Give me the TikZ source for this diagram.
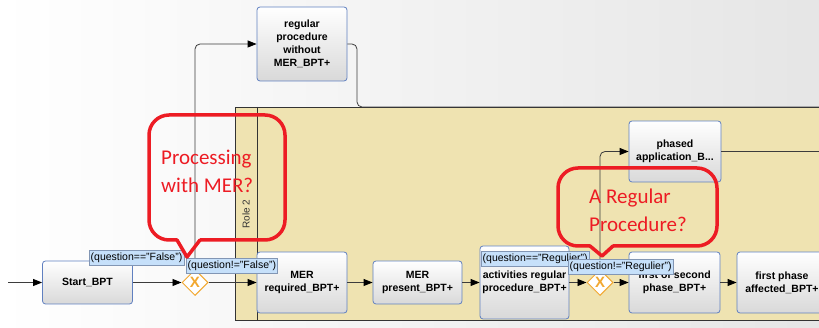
\documentclass[tikz,border=0pt]{standalone}
\usepackage{fontspec}
\setmainfont{Liberation Sans}
\newfontfamily\notefont{Carlito}
\usetikzlibrary{arrows.meta,shapes.geometric}

\definecolor{poolyellow}{RGB}{239,227,177}
\definecolor{taskblue}{RGB}{96,128,192}
\definecolor{gateorange}{RGB}{242,168,48}
\definecolor{condblue}{RGB}{198,224,250}
\definecolor{condline}{RGB}{130,150,180}
\definecolor{notered}{RGB}{237,28,36}
\definecolor{flowgray}{RGB}{60,60,60}

\begin{document}
\begin{tikzpicture}[x=1pt,y=-1pt,
  task/.style={rectangle, draw=taskblue, line width=0.8pt, rounded corners=3pt, top color=white, bottom color=black!15,
    align=center, font=\bfseries\fontsize{10.5}{13}\selectfont, minimum width=90pt, inner sep=1pt},
  gate/.style={diamond, draw=gateorange, fill=white, line width=1pt, minimum size=26pt, inner sep=0pt,
    text=gateorange, font=\bfseries\fontsize{15}{15}\selectfont},
  cond/.style={rectangle, draw=condline, fill=condblue, anchor=north west, inner sep=1.5pt,
    minimum height=15pt, font=\fontsize{10.5}{12}\selectfont},
  flow/.style={draw=flowgray, line width=0.8pt, -{Triangle[length=9pt,width=7pt,color=black]}},
  link/.style={draw=flowgray, line width=0.8pt, rounded corners=5pt},
  note/.style={draw=notered, line width=3.5pt, line cap=round, line join=round},
  notetext/.style={text=notered, anchor=west, align=left, inner sep=0pt, font=\notefont\fontsize{21}{28}\selectfont}
  ]

  \useasboundingbox (0,0) rectangle (819,328);
  \fill[left color=white, right color=black!10] (0,0) rectangle (819,328);

  % pool and lane
  \draw[fill=poolyellow, draw=black!80, line width=0.8pt] (235,107) rectangle (830,320);
  \draw[black!80, line width=0.8pt] (257,107) -- (257,320);
  \node[rotate=90, text=black!80, font=\fontsize{10}{12}\selectfont] (role) at (246,214) {Role 2};

  % tasks
  \node[task, minimum height=43pt] (start) at (87.5,282.5) {Start\_BPT};
  \node[gate] (gw1) at (195,282.5) {X};
  \node[task, minimum height=61pt] (merreq) at (302,282.5) {MER\\required\_BPT+};
  \node[task, minimum height=43pt, minimum width=89pt] (merpres) at (417.5,282.5) {MER\\present\_BPT+};
  \node[task, minimum height=73pt, minimum width=89pt] (actreg) at (524.5,282.5) {activities regular\\procedure\_BPT+};
  \node[gate] (gw2) at (600,282.5) {X};
  \node[task, minimum height=61pt, minimum width=91pt] (firstsec) at (674.5,282.5) {first of second\\phase\_BPT+};
  \node[task, minimum height=61pt] (firstaff) at (782,282.5) {first phase\\affected\_BPT+};
  \node[task, minimum height=74pt] (regnomer) at (302,44) {regular\\procedure\\without\\MER\_BPT+};
  \node[task, minimum height=61pt, minimum width=92pt] (phased) at (675,151.5) {phased\\application\_B...};

  % flows
  \coordinate (entry) at (8,282.5);
  \coordinate (poolbend) at (357,107);
  \coordinate (poolexit) at (819,107);
  \coordinate (phasedexit) at (819,151.5);
  \draw[flow] (entry) -- (start);
  \draw[flow] (start) -- (gw1);
  \draw[flow] (gw1) -- (merreq);
  \draw[flow, rounded corners=5pt] (gw1.north) |- (regnomer.west);
  \draw[link] (regnomer.east) -| (poolbend) -- (poolexit);
  \draw[flow] (merreq) -- (merpres);
  \draw[flow] (merpres) -- (actreg);
  \draw[flow] (actreg) -- (gw2);
  \draw[flow] (gw2) -- (firstsec);
  \draw[flow] (firstsec) -- (firstaff);
  \draw[flow, rounded corners=5pt] (gw2.north) |- (phased.west);
  \draw[link] (phased.east) -- (phasedexit);

  % conditions
  \node[cond] (isfalse) at (89,250) {(question=="False")};
  \node[cond] (notfalse) at (186,258) {(question!="False")};
  \node[cond] (isregul) at (481,251) {(question=="Regulier")};
  \node[cond] (notregul) at (568,259) {(question!="Regulier")};

  % callouts
  \draw[note, rounded corners=20pt] (200,240) -- (285,240) -- (285,115) -- (149,115) -- (149,240) -- (177,240);
  \draw[note] (177,240) -- (187,257) -- (200,240);
  \node[notetext] (askmer) at (161,171.5) {Processing\\with MER?};

  \draw[note, rounded corners=20pt] (613,246) -- (717,246) -- (717,168) -- (558,168) -- (558,246) -- (590,246);
  \draw[note] (590,246) -- (602,256) -- (613,246);
  \node[notetext] (askreg) at (589,210.5) {A Regular\\Procedure?};
\end{tikzpicture}
\end{document}
